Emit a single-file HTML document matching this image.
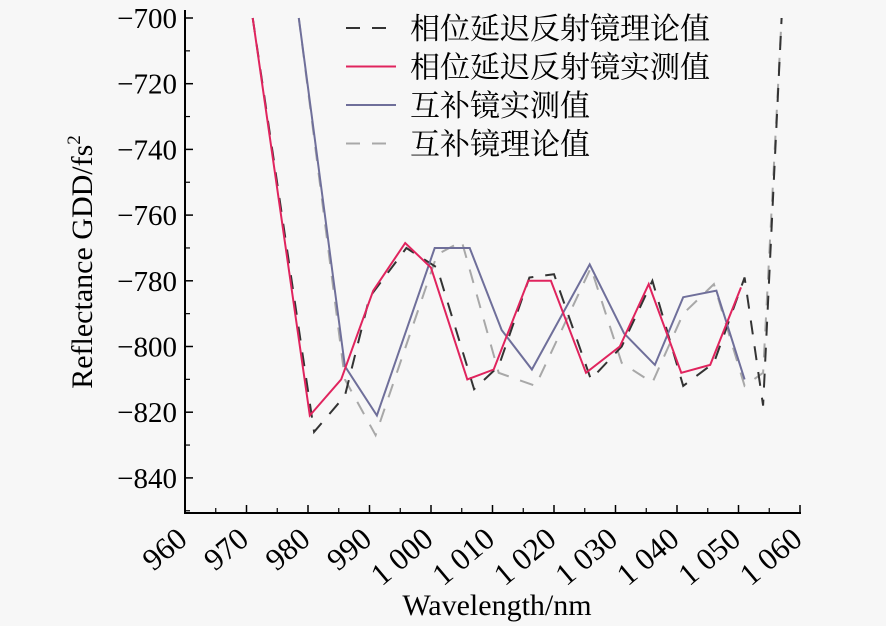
<!DOCTYPE html>
<html><head><meta charset="utf-8"><style>
html,body{margin:0;padding:0;background:#f7f7f7;}
svg{display:block;font-family:"Liberation Serif","Noto Serif CJK SC",serif;}
</style></head><body>
<svg id="chart" width="886" height="626" viewBox="0 0 886 626" xmlns="http://www.w3.org/2000/svg">
<rect width="886" height="626" fill="#f7f7f7"/>
<g id="axes"></g>
<g id="series"></g>
<g id="legend"></g>
</svg>
<script>
const xTicks=[960,970,980,990,1000,1010,1020,1030,1040,1050,1060];
const xTickLabels=["960","970","980","990","1 000","1 010","1 020","1 030","1 040","1 050","1 060"];
const yTicks=[-700,-720,-740,-760,-780,-800,-820,-840];
const yTickLabels=["\u2212700","\u2212720","\u2212740","\u2212760","\u2212780","\u2212800","\u2212820","\u2212840"];
const phaseTheoryX=[971,981,986,990,996,1001,1007,1011,1016,1020,1026,1031,1036,1041,1046,1051,1054,1057];
const phaseTheoryY=[-700,-826,-815,-785,-770,-776,-813,-806,-779,-778,-810,-800,-780,-812,-805,-779,-818,-700];
const phaseMeasX=[971,980.3,985.4,990.6,995.8,1000,1005.9,1010.2,1015.8,1019.5,1025.2,1030.7,1035.4,1040.7,1045.4,1050.4];
const phaseMeasY=[-700,-821,-810,-783,-768.5,-776,-810,-807,-780,-780,-808,-800,-781,-808,-805.6,-782];
const compMeasX=[978.5,986,991.2,1000.6,1006.3,1011.5,1016.4,1025.8,1031.4,1036.4,1041,1046.4,1051];
const compMeasY=[-700,-806,-821,-770,-770,-795,-807,-775,-796,-805.6,-785,-783,-810];
const compTheoryX=[978.5,986,991,1001,1005,1011,1017,1026,1031,1036,1041,1046,1051,1054,1057];
const compTheoryY=[-700,-810,-827,-772,-768,-808,-812,-776,-805,-811,-790,-781,-812,-808,-700];

const NS="http://www.w3.org/2000/svg";
const X=v=>185+(v-960)*6.15;
const Y=v=>18+(-700-v)/20*65.7;
function mk(tag,attrs,parent){const e=document.createElementNS(NS,tag);for(const k in attrs)e.setAttribute(k,attrs[k]);parent.appendChild(e);return e;}
const axes=document.getElementById('axes');
const series=document.getElementById('series');
const legend=document.getElementById('legend');

let a=mk('line',{x1:185,y1:10,x2:185,y2:513,stroke:'#000','stroke-width':2},axes);


a=mk('line',{x1:184,y1:513,x2:801,y2:513,stroke:'#000','stroke-width':2},axes);



xTicks.forEach((t,i)=>{
  const x=X(t);
  const tk=mk('line',{x1:x,y1:513,x2:x,y2:505,stroke:'#000','stroke-width':1.5},axes);
  
  
  if(i<xTicks.length-1){const m=mk('line',{x1:x+30.75,y1:513,x2:x+30.75,y2:508,stroke:'#000','stroke-width':1.2},axes);
  
  }
  const lb=mk('text',{x:x+4,y:542,'font-size':31,'text-anchor':'end',transform:`rotate(-40 ${x+4} 542)`},axes);
  lb.textContent=xTickLabels[i];
  
  
});
yTicks.forEach((t,i)=>{
  const y=Y(t);
  const tk=mk('line',{x1:185,y1:y,x2:193,y2:y,stroke:'#000','stroke-width':1.5},axes);
  
  
  const m=mk('line',{x1:185,y1:y+32.85,x2:190,y2:y+32.85,stroke:'#000','stroke-width':1.2},axes);
  
  
  const lb=mk('text',{x:177,y:y+10,'font-size':29,'text-anchor':'end'},axes);
  lb.textContent=yTickLabels[i];
  
  
});
let tt=mk('text',{x:92,y:262,'font-size':30,'text-anchor':'middle',transform:'rotate(-90 92 262)'},axes);
tt.innerHTML='Reflectance GDD/fs<tspan font-size="19" dy="-12">2</tspan>';


tt=mk('text',{x:497,y:615,'font-size':30,'text-anchor':'middle'},axes);
tt.textContent='Wavelength/nm';



function line(xs,ys,stroke,dash,w,name){
  const d=xs.map((v,i)=>(i?'L':'M')+X(v).toFixed(1)+' '+Y(ys[i]).toFixed(1)).join(' ');
  const p=mk('path',{d:d,fill:'none',stroke:stroke,'stroke-width':w,'stroke-dasharray':dash},series);
  
  
}
line(compTheoryX,compTheoryY,'#a8a8a8','14 12',2,'complementary-theory-line');
line(phaseTheoryX,phaseTheoryY,'#333','14 12',2,'phase-theory-line');
line(compMeasX,compMeasY,'#6f6f9a','none',2,'complementary-measured-line');
line(phaseMeasX,phaseMeasY,'#e0245e','none',2,'phase-measured-line');

const legItems=[['相位延迟反射镜理论值','#333','14 12'],['相位延迟反射镜实测值','#e0245e','none'],['互补镜实测值','#6f6f9a','none'],['互补镜理论值','#a8a8a8','14 12']];
legItems.forEach((it,i)=>{
  const y=28+i*38.5;
  const l=mk('line',{x1:346,y1:y,x2:396,y2:y,stroke:it[1],'stroke-width':2,'stroke-dasharray':it[2]},legend);
  
  
  const t=mk('text',{x:410,y:y+11,'font-size':30,'font-family':'"Noto Serif CJK SC","Noto Sans CJK SC",serif'},legend);
  t.textContent=it[0];
  
  
});
</script>
</body></html>
